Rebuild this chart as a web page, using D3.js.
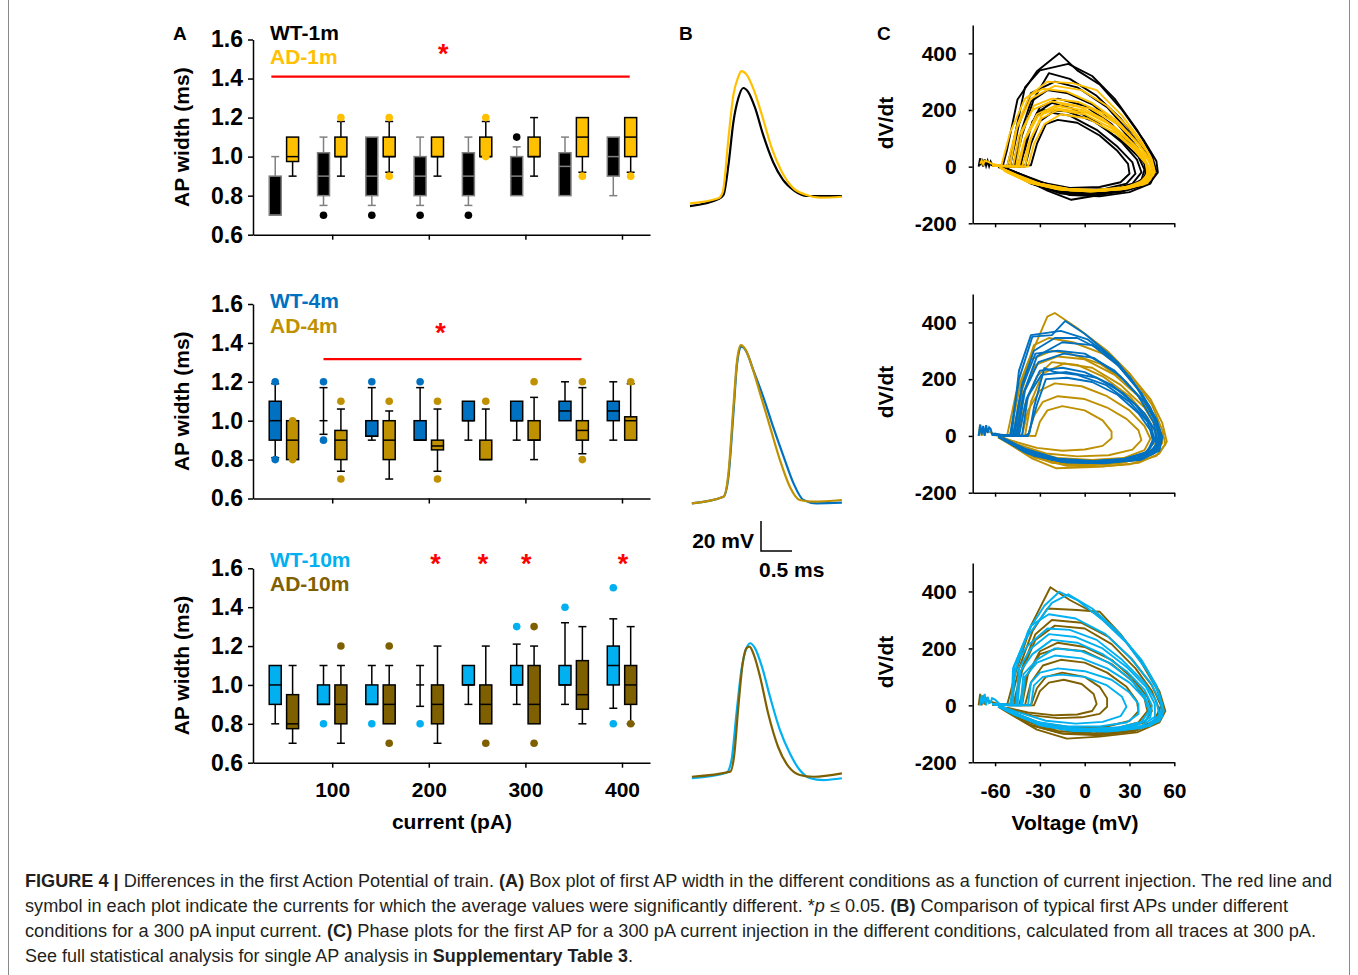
<!DOCTYPE html>
<html lang="en">
<head>
<meta charset="UTF-8" />
<title>Figure 4</title>
<script src="https://d3js.org/d3.v7.min.js"></script>
<style>
  body { margin: 0; background: #fff; }
  svg text { font-family: "Liberation Sans", Arial, Helvetica, sans-serif; }
</style>
</head>
<body>
<svg id="fig" width="1358" height="975"></svg>
<script>
  // ---------- data ----------
  const currents = [50, 100, 150, 200, 250, 300, 350, 400];
  const xTicksA = [100, 200, 300, 400];
  const yTicksA = [0.6, 0.8, 1.0, 1.2, 1.4, 1.6];
  const yTicksC = [-200, 0, 200, 400];
  const xTicksC = [-60, -30, 0, 30, 60];

  // box stats per current: [low whisker, q1, median, q3, high whisker]
  const wt1m = [[0.7,0.7,0.7,0.9,1.0],[0.75,0.8,0.9,1.02,1.1],[0.75,0.8,0.9,1.1,1.1],[0.75,0.8,0.9,1.0,1.1],
                [0.75,0.8,0.9,1.02,1.1],[0.8,0.8,0.9,1.0,1.05],[0.8,0.8,0.95,1.02,1.1],[0.8,0.9,1.0,1.1,1.1]];
  const wt1mOut = [[],[0.7],[0.7],[0.7],[0.7],[1.1],[],[]];
  const ad1m = [[0.9,0.975,1.0,1.1,1.1],[0.9,1.0,1.0,1.1,1.18],[0.92,1.0,1.0,1.1,1.18],[0.9,1.0,1.0,1.1,1.1],
                [1.0,1.0,1.0,1.1,1.18],[0.9,1.0,1.0,1.1,1.2],[0.92,1.0,1.1,1.2,1.2],[0.92,1.0,1.1,1.2,1.2]];
  const ad1mOut = [[],[1.2],[1.2,0.9],[],[1.2,1.0],[],[0.9],[0.9]];

  const wt4m = [[0.81,0.9,1.0,1.1,1.19],[0.93,1.0,1.0,1.0,1.17],[0.9,0.92,0.92,1.0,1.17],[0.9,0.9,0.9,1.0,1.17],
                [0.9,1.0,1.0,1.1,1.1],[0.9,1.0,1.0,1.1,1.1],[1.0,1.0,1.05,1.1,1.2],[0.9,1.0,1.05,1.1,1.2]];
  const wt4mOut = [[1.2,0.8],[1.2,0.9],[1.2],[1.2],[],[],[],[]];
  const ad4m = [[0.8,0.8,0.9,1.0,1.0],[0.74,0.8,0.9,0.95,1.06],[0.7,0.8,0.9,1.0,1.05],[0.74,0.85,0.87,0.9,1.06],
                [0.8,0.8,0.8,0.9,1.06],[0.8,0.9,0.9,1.0,1.12],[0.83,0.9,0.95,1.0,1.17],[0.9,0.9,1.0,1.02,1.19]];
  const ad4mOut = [[1.0,0.8],[1.1,0.7],[1.1],[1.1,0.7],[1.1],[1.2],[1.2,0.8],[1.2]];

  const wt10m = [[0.8,0.9,1.0,1.1,1.1],[0.9,0.9,0.9,1.0,1.1],[0.9,0.9,0.9,1.0,1.1],[0.89,1.0,1.0,1.0,1.1],
                 [0.9,1.0,1.0,1.1,1.1],[0.9,1.0,1.0,1.1,1.21],[0.9,1.0,1.0,1.1,1.32],[0.88,1.0,1.1,1.2,1.34]];
  const wt10mOut = [[],[0.8],[0.8],[0.8],[],[1.3],[1.4],[1.5,0.8]];
  const ad10m = [[0.7,0.775,0.8,0.95,1.1],[0.7,0.8,0.9,1.0,1.1],[0.8,0.8,0.9,1.0,1.1],[0.7,0.8,0.9,1.0,1.2],
                 [0.8,0.8,0.9,1.0,1.2],[0.8,0.8,0.9,1.1,1.2],[0.8,0.875,0.95,1.125,1.3],[0.8,0.9,1.0,1.1,1.3]];
  const ad10mOut = [[],[1.2],[1.2,0.7],[],[0.7],[1.3,0.7],[],[0.8]];

  // significance: [from pA, to pA, level] and star positions (pA, level)
  const sig1mLine = [37, 408, 1.41];
  const sig1mStars = [[215, 1.556]];
  const sig4mLine = [91, 358, 1.317];
  const sig4mStars = [[212, 1.483]];
  const sig10mStars = [[207, 1.651], [256, 1.651], [301, 1.651], [401, 1.651]];

  // first AP traces at 300 pA: [time ms, mV]
  const wt1mTrace = [[0,-65.7],[0.46,-61],[0.54,-58.3],[0.62,-38.3],[0.70,-9.7],[0.78,6.3],[0.86,13],[0.94,10.3],
                     [1.05,-0.3],[1.18,-18.3],[1.34,-36.3],[1.5,-48.3],[1.69,-55.7],[1.88,-59],[2.1,-59],[2.45,-59]];
  const ad1mTrace = [[0,-63.9],[0.46,-60.5],[0.53,-56.1],[0.62,-20.5],[0.70,8.3],[0.78,20.5],[0.83,24.3],[0.91,22.1],
                     [1.02,12.8],[1.16,-5],[1.32,-27.2],[1.48,-42.8],[1.67,-53.9],[1.88,-58.3],[2.1,-60.1],[2.45,-59.5]];
  const wt4mTrace = [[0.03,-65.2],[0.54,-60.8],[0.62,-47.5],[0.70,-5.2],[0.76,28.1],[0.83,39.2],[0.91,35.9],[1.02,23.7],
                     [1.18,5.9],[1.34,-14.1],[1.51,-34.1],[1.67,-51.9],[1.83,-63],[2.04,-65.2],[2.45,-64.8]];
  const ad4mTrace = [[0.03,-65.2],[0.54,-60.8],[0.62,-45.2],[0.70,-0.8],[0.76,30.3],[0.82,40.3],[0.90,37],[1.0,25.9],
                     [1.13,8.1],[1.29,-14.1],[1.45,-36.3],[1.61,-54.1],[1.77,-63],[1.99,-64.1],[2.45,-63]];
  const wt10mTrace = [[0.03,-64.5],[0.59,-60.8],[0.67,-52.3],[0.75,-21.2],[0.83,7.7],[0.90,21],[0.97,25.5],[1.05,22.1],
                      [1.16,9.9],[1.29,-10.1],[1.45,-32.3],[1.61,-47.9],[1.77,-59],[1.94,-64.5],[2.15,-65.7],[2.45,-64.5]];
  const ad10mTrace = [[0.03,-63.5],[0.65,-60.1],[0.71,-50.1],[0.78,-16.8],[0.85,12.1],[0.91,22.1],[0.96,23.2],[1.03,17.7],
                      [1.13,3.2],[1.26,-21.2],[1.42,-43.5],[1.59,-56.8],[1.77,-62.3],[1.99,-63.5],[2.45,-61.2]];

  // phase plots at 300 pA: loops of [mV, dV/dt]
  const wt1mRest = [[-71,0],[-70,30],[-70,5],[-69,28],[-68,0],[-67,25],[-66,3],[-65,20],[-64,2],[-63,18],[-62,8],[-58,2],[-55,0]];
  const wt1mLoops = [
    [[-62,4],[-55,0],[-52,60],[-45,237],[-32,337],[-17,400],[-5,340],[10,290],[25,200],[40,90],[48,20],[49,-20],[44,-55],[30,-80],[10,-100],[-9,-117],[-25,-85],[-40,-45],[-52,-12],[-58,-2]],
    [[-63,6],[-52,0],[-48,80],[-40,280],[-30,340],[-11,363],[5,320],[20,240],[35,130],[45,40],[48,-15],[44,-60],[30,-90],[10,-105],[-10,-100],[-30,-70],[-45,-30],[-56,-4]],
    [[-61,3],[-48,0],[-44,100],[-36,230],[-25,270],[-12,260],[5,220],[22,150],[35,70],[42,5],[40,-40],[30,-75],[10,-90],[-10,-85],[-30,-60],[-45,-25],[-55,-3]],
    [[-62,5],[-45,0],[-40,90],[-32,190],[-22,225],[-8,205],[10,150],[25,85],[35,25],[38,-20],[32,-60],[15,-85],[-5,-85],[-25,-62],[-42,-28],[-54,-3]],
    [[-60,4],[-40,0],[-36,80],[-30,160],[-22,190],[-10,180],[8,130],[22,70],[32,15],[34,-25],[28,-60],[12,-80],[-8,-82],[-28,-60],[-44,-25],[-55,-2]],
    [[-61,2],[-36,5],[-32,80],[-26,150],[-18,165],[-5,155],[10,110],[22,55],[29,10],[30,-25],[24,-55],[10,-72],[-10,-75],[-30,-55],[-46,-20],[-55,-2]],
    [[-62,4],[-50,0],[-44,150],[-36,260],[-20,300],[-5,280],[15,210],[30,120],[42,45],[46,-10],[42,-50],[28,-80],[8,-95],[-12,-92],[-32,-65],[-48,-25],[-57,-3]],
    [[-60,3],[-43,0],[-38,120],[-30,210],[-18,240],[0,215],[18,150],[32,70],[40,10],[41,-30],[34,-65],[18,-85],[-2,-90],[-22,-75],[-40,-38],[-54,-5]],
    [[-62,5],[-47,0],[-42,110],[-34,240],[-24,330],[-10,310],[8,250],[24,170],[38,80],[45,15],[46,-30],[40,-65],[24,-90],[4,-100],[-16,-95],[-36,-60],[-52,-15]],
    [[-61,4],[-44,0],[-40,60],[-35,160],[-28,200],[-12,195],[6,160],[24,95],[36,35],[40,-10],[38,-48],[26,-76],[6,-88],[-14,-86],[-34,-62],[-50,-22]]
  ];
  const ad1mRest = [[-70,10],[-69,22],[-68,8],[-67,20],[-65,18],[-62,10],[-58,5],[-54,0]];
  const ad1mLoops = [
    [[-62,6],[-56,0],[-50,120],[-40,240],[-25,300],[-8,295],[8,270],[25,180],[38,90],[45,25],[47,-20],[42,-55],[28,-75],[10,-85],[-10,-80],[-30,-60],[-45,-30],[-56,-5]],
    [[-61,5],[-52,0],[-46,130],[-36,240],[-20,285],[-2,270],[15,215],[30,135],[42,50],[46,0],[44,-45],[32,-72],[12,-85],[-8,-82],[-28,-65],[-45,-32],[-56,-5]],
    [[-62,4],[-48,0],[-44,110],[-35,200],[-22,230],[-5,215],[12,170],[28,105],[38,45],[43,-5],[40,-48],[28,-72],[8,-82],[-12,-78],[-32,-58],[-48,-25],[-57,-3]],
    [[-60,5],[-45,0],[-40,100],[-32,185],[-20,215],[-2,200],[15,155],[30,90],[40,30],[44,-15],[40,-55],[26,-76],[6,-84],[-15,-78],[-35,-55],[-50,-20],[-57,-2]],
    [[-61,3],[-42,0],[-37,90],[-29,170],[-18,200],[0,185],[18,135],[32,70],[41,15],[43,-25],[37,-60],[22,-78],[2,-84],[-18,-75],[-38,-50],[-52,-15]],
    [[-62,4],[-38,0],[-34,80],[-27,150],[-16,185],[2,170],[20,120],[33,60],[41,10],[42,-28],[36,-62],[20,-80],[0,-85],[-20,-76],[-40,-48],[-54,-12]],
    [[-61,5],[-50,0],[-45,150],[-37,250],[-28,275],[-12,265],[5,225],[22,160],[36,80],[44,15],[46,-30],[40,-62],[24,-80],[4,-88],[-16,-82],[-36,-58],[-52,-20]],
    [[-62,5],[-46,0],[-42,120],[-34,215],[-22,240],[-4,228],[14,185],[30,115],[41,45],[45,-8],[42,-50],[30,-74],[10,-86],[-10,-84],[-30,-64],[-48,-28],[-57,-4]],
    [[-61,4],[-44,0],[-40,95],[-31,180],[-18,205],[2,190],[20,140],[34,75],[43,20],[46,-25],[40,-60],[25,-80],[4,-88],[-18,-80],[-38,-55],[-54,-15]],
    [[-60,3],[-40,0],[-36,100],[-28,190],[-15,220],[4,205],[22,150],[36,80],[44,20],[46,-22],[42,-58],[28,-78],[8,-86],[-14,-82],[-34,-60],[-52,-18]]
  ];

  const ad4mRest = [[-71,0],[-70,40],[-69,0],[-68,30],[-67,2],[-66,25],[-64,15],[-60,5],[-55,0]];
  const ad4mLoops = [
    [[-62,4],[-52,0],[-46,150],[-38,260],[-25,420],[-20,433],[-5,380],[15,300],[30,220],[45,110],[52,20],[54,-30],[48,-70],[30,-100],[5,-110],[-19,-114],[-35,-80],[-50,-30],[-58,-5]],
    [[-61,5],[-48,0],[-44,120],[-36,270],[-22,300],[-10,290],[10,255],[28,190],[42,100],[50,25],[52,-25],[45,-65],[25,-95],[0,-105],[-22,-95],[-40,-60],[-55,-10]],
    [[-62,3],[-45,0],[-40,110],[-32,210],[-22,260],[-5,250],[12,210],[30,140],[42,65],[48,5],[47,-40],[38,-75],[18,-92],[-5,-98],[-28,-80],[-46,-35],[-57,-5]],
    [[-60,4],[-42,0],[-38,90],[-30,160],[-20,185],[-2,175],[15,140],[30,90],[40,35],[44,-10],[40,-50],[26,-78],[5,-85],[-18,-78],[-38,-50],[-54,-10]],
    [[-61,4],[-38,0],[-34,70],[-28,120],[-18,140],[0,130],[15,100],[28,60],[36,20],[38,-15],[32,-48],[16,-68],[-5,-72],[-26,-62],[-44,-32],[-56,-5]],
    [[-62,3],[-33,0],[-30,50],[-25,90],[-15,105],[0,90],[12,55],[18,15],[18,-8],[12,-35],[0,-48],[-15,-52],[-32,-42],[-48,-18],[-57,-2]],
    [[-61,5],[-50,0],[-44,160],[-34,320],[-24,345],[-8,330],[12,290],[30,220],[44,130],[52,45],[55,-20],[50,-62],[36,-95],[12,-108],[-12,-105],[-34,-75],[-52,-20]],
    [[-62,4],[-46,0],[-42,140],[-33,250],[-18,280],[0,270],[20,215],[36,140],[47,60],[52,0],[50,-45],[38,-82],[14,-100],[-10,-100],[-32,-74],[-52,-18]],
    [[-60,4],[-40,0],[-36,120],[-28,220],[-14,255],[5,240],[24,180],[40,100],[48,30],[50,-25],[44,-65],[28,-90],[4,-98],[-20,-90],[-42,-55],[-56,-8]]
  ];
  const wt4mRest = [[-71,0],[-70,40],[-69,5],[-68,35],[-67,0],[-66,38],[-65,10],[-64,30],[-63,25],[-62,5],[-60,8],[-56,2]];
  const wt4mLoops = [
    [[-62,5],[-50,0],[-44,200],[-35,350],[-22,355],[-13,405],[0,360],[18,280],[35,170],[46,70],[51,0],[49,-50],[38,-80],[15,-95],[-10,-92],[-32,-70],[-50,-25],[-58,-3]],
    [[-61,4],[-48,0],[-42,180],[-34,300],[-20,345],[-5,345],[12,300],[30,210],[44,100],[50,20],[49,-35],[40,-72],[20,-90],[-5,-92],[-28,-75],[-48,-30],[-58,-3]],
    [[-62,6],[-46,0],[-41,150],[-32,280],[-15,330],[5,320],[22,250],[38,150],[47,55],[50,-10],[46,-55],[32,-82],[10,-92],[-14,-88],[-36,-62],[-54,-15]],
    [[-60,4],[-44,0],[-39,130],[-30,230],[-15,240],[0,225],[18,180],[34,110],[44,40],[47,-15],[42,-58],[26,-82],[4,-90],[-20,-82],[-42,-50],[-56,-8]],
    [[-61,3],[-40,0],[-37,10],[-34,100],[-27,239],[-20,225],[-5,215],[14,180],[30,120],[42,50],[46,-10],[42,-55],[28,-80],[6,-88],[-18,-80],[-40,-45],[-55,-6]],
    [[-62,5],[-38,0],[-32,110],[-26,200],[-12,205],[5,190],[22,145],[36,80],[44,20],[46,-25],[40,-62],[24,-84],[2,-90],[-22,-80],[-44,-40],[-57,-5]],
    [[-60,4],[-47,0],[-42,170],[-33,290],[-18,300],[0,290],[20,230],[36,140],[46,50],[49,-20],[44,-62],[30,-86],[8,-95],[-16,-90],[-38,-62],[-55,-10]],
    [[-62,4],[-49,0],[-44,230],[-36,355],[-16,370],[2,340],[22,260],[38,150],[48,60],[52,-5],[50,-52],[38,-84],[14,-96],[-12,-94],[-34,-70],[-52,-20]],
    [[-61,5],[-45,0],[-40,160],[-31,260],[-14,290],[6,275],[24,210],[40,120],[49,40],[51,-20],[46,-62],[32,-86],[8,-94],[-16,-90],[-40,-58],[-56,-8]],
    [[-60,4],[-42,0],[-38,140],[-29,215],[-12,225],[8,205],[26,150],[40,80],[47,20],[48,-30],[42,-68],[26,-88],[2,-94],[-22,-84],[-44,-44],[-57,-4]]
  ];

  const ad10mRest = [[-71,0],[-70,40],[-69,0],[-68,35],[-67,3],[-66,25],[-64,15],[-58,5],[-54,0]];
  const ad10mLoops = [
    [[-62,4],[-52,0],[-46,120],[-36,280],[-23,415],[-10,370],[8,320],[25,240],[40,140],[50,50],[54,-20],[50,-60],[35,-95],[10,-110],[-12,-117],[-32,-85],[-50,-30],[-58,-5]],
    [[-61,5],[-50,0],[-44,130],[-35,260],[-25,340],[-5,335],[10,329],[24,250],[38,150],[48,60],[53,-10],[49,-55],[34,-90],[10,-105],[-14,-100],[-36,-70],[-54,-15]],
    [[-62,3],[-47,0],[-42,120],[-33,230],[-20,280],[0,270],[18,215],[34,130],[45,50],[50,-15],[46,-60],[30,-88],[6,-98],[-18,-90],[-40,-55],[-56,-8]],
    [[-60,4],[-44,0],[-39,100],[-30,190],[-18,220],[0,205],[18,160],[32,95],[42,30],[45,-20],[40,-60],[24,-84],[0,-90],[-24,-78],[-44,-40],[-57,-5]],
    [[-61,4],[-40,0],[-36,80],[-28,140],[-16,160],[0,150],[15,115],[28,65],[35,15],[36,-20],[30,-55],[14,-75],[-8,-78],[-30,-62],[-48,-25],[-57,-3]],
    [[-62,3],[-36,0],[-32,60],[-26,100],[-15,115],[0,100],[10,65],[15,25],[15,-5],[10,-30],[-2,-42],[-18,-45],[-35,-35],[-50,-15],[-57,-2]],
    [[-61,3],[-34,0],[-30,50],[-24,80],[-14,90],[-2,75],[6,40],[8,5],[5,-20],[-5,-32],[-20,-35],[-38,-25],[-52,-8]],
    [[-62,4],[-48,0],[-42,130],[-33,250],[-22,300],[-2,290],[16,240],[32,160],[45,70],[51,0],[48,-50],[34,-86],[8,-102],[-16,-98],[-38,-66],[-55,-12]],
    [[-61,4],[-42,0],[-38,110],[-30,180],[-18,200],[0,190],[18,145],[32,85],[40,25],[42,-20],[36,-60],[20,-82],[-4,-88],[-28,-74],[-48,-32],[-57,-4]]
  ];
  const wt10mRest = [[-70,0],[-69,35],[-68,5],[-67,40],[-66,0],[-65,30],[-64,8],[-63,10],[-62,25],[-60,20],[-57,5],[-53,0]];
  const wt10mLoops = [
    [[-62,5],[-50,0],[-46,130],[-38,260],[-27,350],[-17,399],[-5,370],[12,300],[28,220],[42,120],[50,40],[53,-20],[50,-55],[38,-80],[15,-92],[-8,-90],[-30,-70],[-50,-25],[-58,-3]],
    [[-61,4],[-49,0],[-48,130],[-40,230],[-22,360],[-11,390],[5,340],[22,260],[38,160],[48,70],[52,0],[50,-45],[40,-75],[18,-90],[-5,-90],[-28,-72],[-48,-30],[-58,-4]],
    [[-62,6],[-48,0],[-47,140],[-38,210],[-25,270],[-10,265],[8,230],[25,160],[40,80],[48,15],[50,-35],[42,-70],[22,-88],[0,-90],[-24,-75],[-46,-35],[-57,-5]],
    [[-60,4],[-45,0],[-43,120],[-35,180],[-22,230],[-5,220],[12,180],[28,120],[40,55],[45,0],[44,-42],[34,-72],[14,-86],[-8,-86],[-30,-66],[-50,-22]],
    [[-61,3],[-42,0],[-40,100],[-32,150],[-20,175],[-2,165],[15,130],[30,80],[40,25],[43,-20],[38,-58],[22,-78],[0,-84],[-22,-74],[-44,-38],[-56,-6]],
    [[-62,5],[-38,0],[-36,80],[-30,115],[-18,130],[0,120],[18,90],[30,45],[36,5],[36,-30],[28,-60],[10,-74],[-12,-74],[-32,-58],[-50,-20]],
    [[-61,4],[-36,0],[-34,70],[-28,100],[-16,108],[0,100],[15,70],[25,30],[28,-5],[24,-38],[12,-58],[-6,-64],[-26,-54],[-46,-22],[-56,-4]],
    [[-62,4],[-49,0],[-47,140],[-36,280],[-24,320],[-6,305],[14,250],[30,170],[44,80],[51,10],[52,-40],[44,-72],[24,-88],[0,-90],[-26,-74],[-48,-28]],
    [[-61,5],[-46,0],[-44,130],[-36,200],[-24,250],[-6,240],[12,200],[28,135],[41,65],[47,5],[47,-40],[38,-72],[18,-86],[-4,-88],[-28,-70],[-50,-24]],
    [[-60,3],[-43,0],[-41,110],[-32,160],[-20,200],[-2,190],[16,150],[30,95],[40,35],[44,-15],[41,-54],[28,-76],[6,-84],[-18,-78],[-42,-44],[-56,-6]]
  ];

  // ---------- layout ----------
  const svg = d3.select('#fig');
  const BOLD = 'bold';
  const fmtC = d => String(d);  // plain hyphen for negatives

  // figure frame
  svg.append('line').attr('x1', 8.5).attr('x2', 8.5).attr('y1', 0).attr('y2', 975)
    .attr('stroke', '#8a8a8a').attr('stroke-width', 1);
  svg.append('line').attr('x1', 1349.5).attr('x2', 1349.5).attr('y1', 0).attr('y2', 975)
    .attr('stroke', '#8a8a8a').attr('stroke-width', 1);

  function styleAxis(g, size) {
    g.selectAll('path,line').attr('stroke', '#000').attr('stroke-width', 1.5);
    g.selectAll('text').attr('font-size', size || 21).attr('font-weight', BOLD)
      .attr('fill', '#000').attr('font-family', '"Liberation Sans", Arial, sans-serif');
  }

  // panel letters
  [['A', 173, 40], ['B', 679, 40], ['C', 877, 40]].forEach(([t, x, y]) => {
    svg.append('text').attr('x', x).attr('y', y).attr('font-size', 19)
      .attr('font-weight', BOLD).text(t);
  });

  // ---------- panel A: box plots ----------
  const xA = d3.scaleLinear().domain([18, 429]).range([253, 650]);

  const rowsA = [
    { top: 39.5, bottom: 234.7, legY: [39.5, 63.5],
      wt: { name: 'WT-1m', s: wt1m, o: wt1mOut, fill: '#000000', line: '#808080', text: '#000000' },
      ad: { name: 'AD-1m', s: ad1m, o: ad1mOut, fill: '#FFC000', line: '#000000', text: '#FFC000' },
      sigLine: sig1mLine, stars: sig1mStars, labels: false },
    { top: 304, bottom: 498.5, legY: [308, 333],
      wt: { name: 'WT-4m', s: wt4m, o: wt4mOut, fill: '#0070C0', line: '#000000', text: '#0070C0' },
      ad: { name: 'AD-4m', s: ad4m, o: ad4mOut, fill: '#BF9000', line: '#000000', text: '#BF9000' },
      sigLine: sig4mLine, stars: sig4mStars, labels: false },
    { top: 568.3, bottom: 762.7, legY: [567, 590.5],
      wt: { name: 'WT-10m', s: wt10m, o: wt10mOut, fill: '#00B0F0', line: '#000000', text: '#00B0F0' },
      ad: { name: 'AD-10m', s: ad10m, o: ad10mOut, fill: '#7F6000', line: '#000000', text: '#7F6000' },
      sigLine: null, stars: sig10mStars, labels: true }
  ];

  function drawBox(g, cx, st, outs, ser, y) {
    const [lo, q1, med, q3, hi] = st;
    const w = 12, cap = 8;
    if (hi > q3) {
      g.append('line').attr('x1', cx).attr('x2', cx).attr('y1', y(q3)).attr('y2', y(hi))
        .attr('stroke', ser.line).attr('stroke-width', 1.5);
      g.append('line').attr('x1', cx - cap / 2).attr('x2', cx + cap / 2).attr('y1', y(hi)).attr('y2', y(hi))
        .attr('stroke', ser.line).attr('stroke-width', 1.5);
    }
    if (lo < q1) {
      g.append('line').attr('x1', cx).attr('x2', cx).attr('y1', y(q1)).attr('y2', y(lo))
        .attr('stroke', ser.line).attr('stroke-width', 1.5);
      g.append('line').attr('x1', cx - cap / 2).attr('x2', cx + cap / 2).attr('y1', y(lo)).attr('y2', y(lo))
        .attr('stroke', ser.line).attr('stroke-width', 1.5);
    }
    if (q3 > q1) {
      g.append('rect').attr('x', cx - w / 2).attr('y', y(q3)).attr('width', w).attr('height', y(q1) - y(q3))
        .attr('fill', ser.fill).attr('stroke', ser.line).attr('stroke-width', 1.5);
      g.append('line').attr('x1', cx - w / 2).attr('x2', cx + w / 2).attr('y1', y(med)).attr('y2', y(med))
        .attr('stroke', ser.line).attr('stroke-width', 1.5);
    } else {
      g.append('line').attr('x1', cx - cap / 2).attr('x2', cx + cap / 2).attr('y1', y(med)).attr('y2', y(med))
        .attr('stroke', ser.line).attr('stroke-width', 1.5);
    }
    outs.forEach(v => {
      g.append('circle').attr('cx', cx).attr('cy', y(v)).attr('r', 3.8).attr('fill', ser.fill);
    });
  }

  rowsA.forEach(r => {
    const y = d3.scaleLinear().domain([0.6, 1.6]).range([r.bottom, r.top]);
    const g = svg.append('g');

    const ax = g.append('g').attr('transform', `translate(253,0)`)
      .call(d3.axisLeft(y).tickValues(yTicksA).tickFormat(d3.format('.1f')).tickSize(5).tickSizeOuter(0).tickPadding(5));
    styleAxis(ax, 23);
    const bx = g.append('g').attr('transform', `translate(0,${r.bottom})`)
      .call(d3.axisBottom(xA).tickValues(xTicksA).tickSize(5).tickSizeOuter(0).tickPadding(14)
        .tickFormat(r.labels ? d3.format('d') : () => ''));
    styleAxis(bx);

    g.append('text').attr('transform', `translate(189,${(r.top + r.bottom) / 2}) rotate(-90)`)
      .attr('text-anchor', 'middle').attr('font-size', 21).attr('font-weight', BOLD).text('AP width (ms)');

    g.append('text').attr('x', 270).attr('y', r.legY[0]).attr('font-size', 21).attr('font-weight', BOLD)
      .attr('fill', r.wt.text).text(r.wt.name);
    g.append('text').attr('x', 270).attr('y', r.legY[1]).attr('font-size', 21).attr('font-weight', BOLD)
      .attr('fill', r.ad.text).text(r.ad.name);

    if (r.sigLine) {
      g.append('line').attr('x1', xA(r.sigLine[0])).attr('x2', xA(r.sigLine[1]))
        .attr('y1', y(r.sigLine[2])).attr('y2', y(r.sigLine[2]))
        .attr('stroke', '#FF0000').attr('stroke-width', 2.2);
    }
    r.stars.forEach(([c, v]) => {
      g.append('text').attr('x', xA(c)).attr('y', y(v) + 15).attr('text-anchor', 'middle')
        .attr('font-size', 27).attr('font-weight', BOLD).attr('fill', '#FF0000').text('*');
    });

    currents.forEach((c, i) => {
      drawBox(g, xA(c - 9), r.wt.s[i], r.wt.o[i], r.wt, y);
      drawBox(g, xA(c + 9), r.ad.s[i], r.ad.o[i], r.ad, y);
    });

    if (r.labels) {
      g.append('text').attr('x', 452).attr('y', 829).attr('text-anchor', 'middle')
        .attr('font-size', 21).attr('font-weight', BOLD).text('current (pA)');
    }
  });

  // ---------- panel B: AP traces ----------
  const tB = d3.scaleLinear().domain([0, 2.5]).range([690, 845]);
  const rowsB = [
    { base: 205, traces: [[wt1mTrace, '#000000'], [ad1mTrace, '#FFC000']] },
    { base: 503, traces: [[wt4mTrace, '#0070C0'], [ad4mTrace, '#BF9000']] },
    { base: 779, traces: [[wt10mTrace, '#00B0F0'], [ad10mTrace, '#7F6000']] }
  ];
  rowsB.forEach(r => {
    const v = d3.scaleLinear().domain([-65, 35]).range([r.base, r.base - 150]);
    const line = d3.line().x(d => tB(d[0])).y(d => v(d[1])).curve(d3.curveMonotoneX);
    r.traces.forEach(([data, col]) => {
      svg.append('path').attr('d', line(data)).attr('fill', 'none')
        .attr('stroke', col).attr('stroke-width', 2.2);
    });
  });
  // scale bar 20 mV / 0.5 ms
  {
    const sbX = 761, sbY = 551;
    const mv = 1.5, ms = tB(0.5) - tB(0);
    svg.append('path').attr('d', `M${sbX},${sbY - 20 * mv}V${sbY}H${sbX + ms}`)
      .attr('fill', 'none').attr('stroke', '#000').attr('stroke-width', 1.5);
    svg.append('text').attr('x', 754).attr('y', 548).attr('text-anchor', 'end')
      .attr('font-size', 21).attr('font-weight', BOLD).text('20 mV');
    svg.append('text').attr('x', 759).attr('y', 577)
      .attr('font-size', 21).attr('font-weight', BOLD).text('0.5 ms');
  }

  // ---------- panel C: phase plots ----------
  const xC = d3.scaleLinear().domain([-75, 60]).range([972.7, 1174.3]);
  const rowsC = [
    { top: 25, bottom: 223.3, labY: 123,
      sets: [[wt1mRest, wt1mLoops, '#000000'], [ad1mRest, ad1mLoops, '#FFC000']], labels: false },
    { top: 294, bottom: 492.7, labY: 392,
      sets: [[ad4mRest, ad4mLoops, '#BF9000'], [wt4mRest, wt4mLoops, '#0070C0']], labels: false },
    { top: 563, bottom: 762.3, labY: 662,
      sets: [[ad10mRest, ad10mLoops, '#7F6000'], [wt10mRest, wt10mLoops, '#00B0F0']], labels: true }
  ];
  rowsC.forEach(r => {
    const y = d3.scaleLinear().domain([-200, 500]).range([r.bottom, r.top]);
    const g = svg.append('g');
    const line = d3.line().x(d => xC(d[0])).y(d => y(d[1]));
    r.sets.forEach(([rest, loops, col]) => {
      g.append('path').attr('d', line(rest)).attr('fill', 'none').attr('stroke', col).attr('stroke-width', 2);
      loops.forEach(lp => {
        g.append('path').attr('d', line(lp)).attr('fill', 'none').attr('stroke', col)
          .attr('stroke-width', 1.9).attr('stroke-linejoin', 'round');
      });
    });
    const ax = g.append('g').attr('transform', 'translate(972.7,0)')
      .call(d3.axisLeft(y).tickValues(yTicksC).tickFormat(fmtC).tickSize(4).tickSizeOuter(0).tickPadding(12));
    styleAxis(ax);
    const bx = g.append('g').attr('transform', `translate(0,${r.bottom})`)
      .call(d3.axisBottom(xC).tickValues(xTicksC).tickSize(4).tickSizeOuter(0).tickPadding(17)
        .tickFormat(r.labels ? fmtC : () => ''));
    styleAxis(bx);
    g.append('text').attr('transform', `translate(893,${r.labY}) rotate(-90)`)
      .attr('text-anchor', 'middle').attr('font-size', 21).attr('font-weight', BOLD).text('dV/dt');
    if (r.labels) {
      g.append('text').attr('x', 1075).attr('y', 830).attr('text-anchor', 'middle')
        .attr('font-size', 21).attr('font-weight', BOLD).text('Voltage (mV)');
    }
  });

  // ---------- caption ----------
  const captionLines = [
    { y: 887, w: 1307, parts: [['FIGURE 4 |', 'b'], [' Differences in the first Action Potential of train. '], ['(A)', 'b'],
      [' Box plot of first AP width in the different conditions as a function of current injection. The red line and']] },
    { y: 912, w: 1263, parts: [['symbol in each plot indicate the currents for which the average values were significantly different. *'],
      ['p', 'i'], [' ≤ 0.05. '], ['(B)', 'b'], [' Comparison of typical first APs under different']] },
    { y: 937, w: 1291, parts: [['conditions for a 300 pA input current. '], ['(C)', 'b'],
      [' Phase plots for the first AP for a 300 pA current injection in the different conditions, calculated from all traces at 300 pA.']] },
    { y: 962, w: 608, parts: [['See full statistical analysis for single AP analysis in '], ['Supplementary Table 3', 'b'], ['.']] }
  ];
  captionLines.forEach(l => {
    const t = svg.append('text').attr('x', 25).attr('y', l.y).attr('font-size', 17.5).attr('fill', '#231f20')
      .attr('textLength', l.w).attr('lengthAdjust', 'spacingAndGlyphs').style('white-space', 'pre');
    l.parts.forEach(([s, f]) => {
      const ts = t.append('tspan').text(s);
      if (f === 'b') ts.attr('font-weight', 'bold');
      if (f === 'i') ts.attr('font-style', 'italic');
    });
  });
</script>
</body>
</html>
